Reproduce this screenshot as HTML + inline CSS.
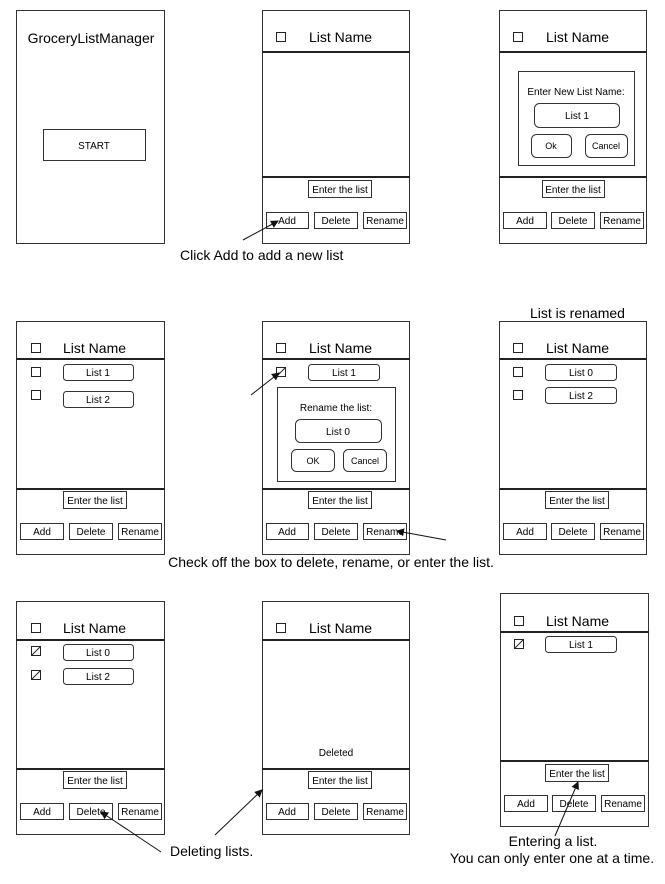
<!DOCTYPE html>
<html><head><meta charset="utf-8"><style>
html,body{margin:0;padding:0;background:#fff}
svg{display:block}
text{font-family:"Liberation Sans",Arial,sans-serif;fill:#000}
.f{fill:#fff;stroke:#333;stroke-width:1}
.b{fill:#fff;stroke:#333;stroke-width:1}
.hl{stroke:#222;stroke-width:2}
.s{font-size:10px}
.t{font-size:14px}
.m{font-size:14px}
.cb{fill:#fff;stroke:#222;stroke-width:1}
.ar{stroke:#111;stroke-width:1;fill:none}
</style></head><body>
<svg width="665" height="884" viewBox="0 0 665 884" xmlns="http://www.w3.org/2000/svg">
<defs><marker id="a" markerWidth="8" markerHeight="8" refX="7" refY="4" orient="auto" markerUnits="userSpaceOnUse"><path d="M0,0 L8,4 L0,8 z" fill="#111"/></marker></defs>

<!-- Row 1 -->
<rect class="f" x="16.5" y="10.5" width="148" height="233"/>
<text x="91" y="43" font-size="14" text-anchor="middle">GroceryListManager</text>
<rect class="b" x="43.5" y="129.5" width="102" height="31"/>
<text x="94" y="149" class="s" text-anchor="middle">START</text>

<rect class="f" x="262.5" y="10.5" width="147" height="233"/>
<rect class="cb" x="276.5" y="32.5" width="9" height="9"/>
<text x="309" y="42" class="t">List Name</text>
<line class="hl" x1="262" y1="52" x2="410" y2="52"/>
<line class="hl" x1="262" y1="177" x2="410" y2="177"/>
<rect class="b" x="308.5" y="180.5" width="63" height="17"/>
<text x="340" y="193" class="s" text-anchor="middle">Enter the list</text>
<rect class="b" x="266.5" y="212.5" width="42" height="16"/><text x="287" y="224" class="s" text-anchor="middle">Add</text>
<rect class="b" x="314.5" y="212.5" width="43" height="16"/><text x="336" y="224" class="s" text-anchor="middle">Delete</text>
<rect class="b" x="363.5" y="212.5" width="43" height="16"/><text x="385" y="224" class="s" text-anchor="middle">Rename</text>
<line class="ar" x1="243" y1="240" x2="278" y2="221" marker-end="url(#a)"/>
<text x="180" y="260" class="m">Click Add to add a new list</text>

<rect class="f" x="499.5" y="10.5" width="147" height="233"/>
<rect class="cb" x="513.5" y="32.5" width="9" height="9"/>
<text x="546" y="42" class="t">List Name</text>
<line class="hl" x1="499" y1="52" x2="647" y2="52"/>
<line class="hl" x1="499" y1="177" x2="647" y2="177"/>
<rect class="b" x="518.5" y="71.5" width="116" height="94"/>
<text x="576" y="95" class="s" text-anchor="middle">Enter New List Name:</text>
<rect class="b" x="534.5" y="103.5" width="85" height="24" rx="5"/><text x="577" y="119" class="s" text-anchor="middle">List 1</text>
<rect class="b" x="531.5" y="134.5" width="40" height="23" rx="5"/><text x="551" y="149" font-size="9" text-anchor="middle">Ok</text>
<rect class="b" x="585.5" y="134.5" width="42" height="23" rx="5"/><text x="606" y="149" font-size="9" text-anchor="middle">Cancel</text>
<rect class="b" x="542.5" y="180.5" width="62" height="17"/>
<text x="573" y="193" class="s" text-anchor="middle">Enter the list</text>
<rect class="b" x="503.5" y="212.5" width="43" height="16"/><text x="525" y="224" class="s" text-anchor="middle">Add</text>
<rect class="b" x="551.5" y="212.5" width="43" height="16"/><text x="573" y="224" class="s" text-anchor="middle">Delete</text>
<rect class="b" x="600.5" y="212.5" width="43" height="16"/><text x="622" y="224" class="s" text-anchor="middle">Rename</text>

<!-- Row 2 -->
<rect class="f" x="16.5" y="321.5" width="148" height="233"/>
<rect class="cb" x="31.5" y="343.5" width="9" height="9"/>
<text x="63" y="353" class="t">List Name</text>
<line class="hl" x1="16" y1="359" x2="165" y2="359"/>
<rect class="cb" x="31.5" y="367.5" width="9" height="9"/>
<rect class="b" x="63.5" y="364.5" width="70" height="16" rx="3"/><text x="98" y="376" class="s" text-anchor="middle">List 1</text>
<rect class="cb" x="31.5" y="390.5" width="9" height="9"/>
<rect class="b" x="63.5" y="391.5" width="70" height="16" rx="3"/><text x="98" y="403" class="s" text-anchor="middle">List 2</text>
<line class="hl" x1="16" y1="489" x2="165" y2="489"/>
<rect class="b" x="63.5" y="491.5" width="63" height="17"/><text x="95" y="504" class="s" text-anchor="middle">Enter the list</text>
<rect class="b" x="20.5" y="523.5" width="43" height="16"/><text x="42" y="535" class="s" text-anchor="middle">Add</text>
<rect class="b" x="69.5" y="523.5" width="43" height="16"/><text x="91" y="535" class="s" text-anchor="middle">Delete</text>
<rect class="b" x="118.5" y="523.5" width="43" height="16"/><text x="140" y="535" class="s" text-anchor="middle">Rename</text>

<rect class="f" x="262.5" y="321.5" width="147" height="233"/>
<rect class="cb" x="276.5" y="343.5" width="9" height="9"/>
<text x="309" y="353" class="t">List Name</text>
<line class="hl" x1="262" y1="359" x2="410" y2="359"/>
<rect class="cb" x="276.5" y="367.5" width="9" height="9"/><path d="M277,376 L285,368" stroke="#222"/>
<rect class="b" x="308.5" y="364.5" width="71" height="16" rx="3"/><text x="344" y="376" class="s" text-anchor="middle">List 1</text>
<rect class="b" x="277.5" y="387.5" width="118" height="94"/>
<text x="336" y="411" class="s" text-anchor="middle">Rename the list:</text>
<rect class="b" x="295.5" y="419.5" width="86" height="23" rx="5"/><text x="338" y="435" class="s" text-anchor="middle">List 0</text>
<rect class="b" x="291.5" y="449.5" width="43" height="22" rx="5"/><text x="313" y="464" font-size="9" text-anchor="middle">OK</text>
<rect class="b" x="343.5" y="449.5" width="43" height="22" rx="5"/><text x="365" y="464" font-size="9" text-anchor="middle">Cancel</text>
<line class="hl" x1="262" y1="489" x2="410" y2="489"/>
<rect class="b" x="308.5" y="491.5" width="63" height="17"/><text x="340" y="504" class="s" text-anchor="middle">Enter the list</text>
<rect class="b" x="266.5" y="523.5" width="42" height="16"/><text x="287" y="535" class="s" text-anchor="middle">Add</text>
<rect class="b" x="314.5" y="523.5" width="43" height="16"/><text x="336" y="535" class="s" text-anchor="middle">Delete</text>
<rect class="b" x="363.5" y="523.5" width="43" height="16"/><text x="385" y="535" class="s" text-anchor="middle">Rename</text>
<line class="ar" x1="251" y1="395" x2="279" y2="373" marker-end="url(#a)"/>
<line class="ar" x1="446" y1="540" x2="397" y2="531" marker-end="url(#a)"/>

<text x="530" y="318" class="m">List is renamed</text>
<rect class="f" x="499.5" y="321.5" width="147" height="233"/>
<rect class="cb" x="513.5" y="343.5" width="9" height="9"/>
<text x="546" y="353" class="t">List Name</text>
<line class="hl" x1="499" y1="359" x2="647" y2="359"/>
<rect class="cb" x="513.5" y="367.5" width="9" height="9"/>
<rect class="b" x="545.5" y="364.5" width="71" height="16" rx="3"/><text x="581" y="376" class="s" text-anchor="middle">List 0</text>
<rect class="cb" x="513.5" y="390.5" width="9" height="9"/>
<rect class="b" x="545.5" y="387.5" width="71" height="16" rx="3"/><text x="581" y="399" class="s" text-anchor="middle">List 2</text>
<line class="hl" x1="499" y1="489" x2="647" y2="489"/>
<rect class="b" x="545.5" y="491.5" width="63" height="17"/><text x="577" y="504" class="s" text-anchor="middle">Enter the list</text>
<rect class="b" x="503.5" y="523.5" width="43" height="16"/><text x="525" y="535" class="s" text-anchor="middle">Add</text>
<rect class="b" x="551.5" y="523.5" width="43" height="16"/><text x="573" y="535" class="s" text-anchor="middle">Delete</text>
<rect class="b" x="600.5" y="523.5" width="43" height="16"/><text x="622" y="535" class="s" text-anchor="middle">Rename</text>

<text x="331" y="567" class="m" text-anchor="middle">Check off the box to delete, rename, or enter the list.</text>

<!-- Row 3 -->
<rect class="f" x="16.5" y="601.5" width="148" height="233"/>
<rect class="cb" x="31.5" y="623.5" width="9" height="9"/>
<text x="63" y="633" class="t">List Name</text>
<line class="hl" x1="16" y1="640" x2="165" y2="640"/>
<rect class="cb" x="31.5" y="646.5" width="9" height="9"/><path d="M32,655 L40,647" stroke="#222"/>
<rect class="b" x="63.5" y="644.5" width="70" height="16" rx="3"/><text x="98" y="656" class="s" text-anchor="middle">List 0</text>
<rect class="cb" x="31.5" y="670.5" width="9" height="9"/><path d="M32,679 L40,671" stroke="#222"/>
<rect class="b" x="63.5" y="668.5" width="70" height="16" rx="3"/><text x="98" y="680" class="s" text-anchor="middle">List 2</text>
<line class="hl" x1="16" y1="769" x2="165" y2="769"/>
<rect class="b" x="63.5" y="771.5" width="63" height="17"/><text x="95" y="784" class="s" text-anchor="middle">Enter the list</text>
<rect class="b" x="20.5" y="803.5" width="43" height="16"/><text x="42" y="815" class="s" text-anchor="middle">Add</text>
<rect class="b" x="69.5" y="803.5" width="43" height="16"/><text x="91" y="815" class="s" text-anchor="middle">Delete</text>
<rect class="b" x="118.5" y="803.5" width="43" height="16"/><text x="140" y="815" class="s" text-anchor="middle">Rename</text>
<line class="ar" x1="161" y1="852" x2="101" y2="812" marker-end="url(#a)"/>
<text x="170" y="856" class="m">Deleting lists.</text>

<rect class="f" x="262.5" y="601.5" width="147" height="233"/>
<rect class="cb" x="276.5" y="623.5" width="9" height="9"/>
<text x="309" y="633" class="t">List Name</text>
<line class="hl" x1="262" y1="640" x2="410" y2="640"/>
<text x="336" y="756" class="s" text-anchor="middle">Deleted</text>
<line class="hl" x1="262" y1="769" x2="410" y2="769"/>
<rect class="b" x="308.5" y="771.5" width="63" height="17"/><text x="340" y="784" class="s" text-anchor="middle">Enter the list</text>
<rect class="b" x="266.5" y="803.5" width="42" height="16"/><text x="287" y="815" class="s" text-anchor="middle">Add</text>
<rect class="b" x="314.5" y="803.5" width="43" height="16"/><text x="336" y="815" class="s" text-anchor="middle">Delete</text>
<rect class="b" x="363.5" y="803.5" width="43" height="16"/><text x="385" y="815" class="s" text-anchor="middle">Rename</text>
<line class="ar" x1="215" y1="835" x2="262" y2="790" marker-end="url(#a)"/>

<rect class="f" x="500.5" y="593.5" width="148" height="233"/>
<rect class="cb" x="514.5" y="616.5" width="9" height="9"/>
<text x="546" y="626" class="t">List Name</text>
<line class="hl" x1="500" y1="632" x2="649" y2="632"/>
<rect class="cb" x="514.5" y="639.5" width="9" height="9"/><path d="M515,648 L523,640" stroke="#222"/>
<rect class="b" x="545.5" y="636.5" width="71" height="16" rx="3"/><text x="581" y="648" class="s" text-anchor="middle">List 1</text>
<line class="hl" x1="500" y1="761" x2="649" y2="761"/>
<rect class="b" x="545.5" y="764.5" width="63" height="17"/><text x="577" y="777" class="s" text-anchor="middle">Enter the list</text>
<rect class="b" x="504.5" y="795.5" width="43" height="16"/><text x="526" y="807" class="s" text-anchor="middle">Add</text>
<rect class="b" x="552.5" y="795.5" width="43" height="16"/><text x="574" y="807" class="s" text-anchor="middle">Delete</text>
<rect class="b" x="601.5" y="795.5" width="43" height="16"/><text x="623" y="807" class="s" text-anchor="middle">Rename</text>
<line class="ar" x1="555" y1="836" x2="578" y2="782" marker-end="url(#a)"/>
<text x="553" y="846" class="m" text-anchor="middle">Entering a list.</text>
<text x="552" y="863" class="m" text-anchor="middle">You can only enter one at a time.</text>
</svg>
</body></html>
